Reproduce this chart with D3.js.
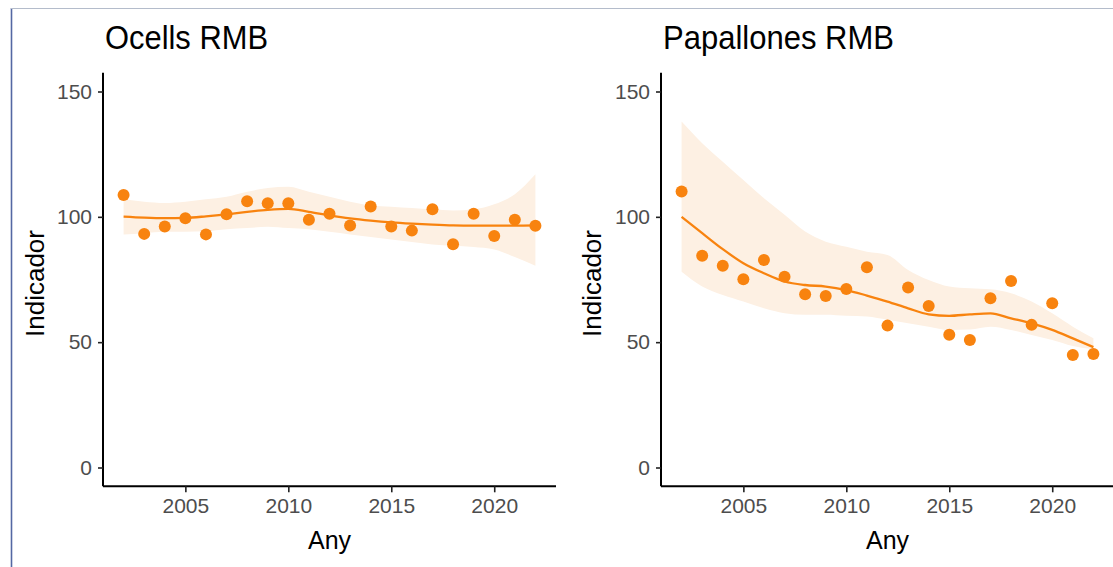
<!DOCTYPE html>
<html>
<head>
<meta charset="utf-8">
<script src="https://cdn.jsdelivr.net/npm/d3@7"></script>
<style>
  html, body { margin: 0; padding: 0; background: #fff; }
  svg { display: block; font-family: "Liberation Sans", Arial, sans-serif; }
</style>
</head>
<body>
<svg id="chart" width="1113" height="567"></svg>
<script>
// ---------- DATA ----------
const years = [2002,2003,2004,2005,2006,2007,2008,2009,2010,2011,2012,2013,2014,2015,2016,2017,2018,2019,2020,2021,2022];

const ocellsPoints = [108.7,93.2,96.1,99.4,93.0,101.0,106.2,105.4,105.4,98.8,101.2,96.5,104.1,96.1,94.5,103.0,89.1,101.2,92.4,98.8,96.4];
const ocellsSmooth = [100.1,99.7,99.5,99.6,100.2,101.0,102.0,102.8,103.2,102.0,100.6,99.4,98.5,97.8,97.3,96.9,96.6,96.5,96.5,96.5,96.6];
const ocellsLower  = [93.0,93.5,94.0,94.0,94.2,95.0,95.5,96.0,95.5,95.0,94.0,93.0,92.0,91.0,90.0,89.0,88.5,88.0,87.0,84.0,80.5];
const ocellsUpper  = [107.0,106.0,105.5,106.0,107.0,108.0,110.0,111.5,112.0,110.0,108.0,106.0,104.5,104.0,103.5,103.0,102.5,103.0,105.0,109.0,117.0];

const papPoints = [110.1,84.5,80.5,75.1,82.8,76.1,69.1,68.4,71.2,79.9,56.6,71.8,64.4,53.0,50.9,67.5,74.4,56.9,65.5,44.9,45.3];
const papSmooth = [100.0,93.5,87.1,81.5,77.5,74.2,72.8,72.2,70.8,68.6,66.2,63.5,61.1,60.5,61.1,61.5,59.5,57.5,54.9,51.5,48.0];
const papLower  = [78.1,72.2,68.8,66.2,63.5,61.5,60.9,60.9,60.5,60.2,58.9,57.5,56.2,54.9,55.1,56.2,54.9,52.9,50.9,48.5,47.2];
const papUpper  = [138.0,129.4,122.0,114.7,107.4,100.8,94.1,90.1,88.1,86.1,84.8,78.8,74.8,72.2,71.5,71.1,69.5,66.2,61.5,56.2,51.6];

const yTicks = [0,50,100,150];
const xTicks = [2005,2010,2015,2020];
const titles = ["Ocells RMB","Papallones RMB"];
const xTitle = "Any";
const yTitle = "Indicador";

// ---------- STYLE ----------
const orange = "#F8830F";
const bandFill = "#FDF0E3";
const tickGray = "#4D4D4D";

const svg = d3.select("#chart");

// frame lines of the screenshot
svg.append("line").attr("x1",11.5).attr("x2",11.5).attr("y1",8).attr("y2",567)
  .attr("stroke","#5468a3").attr("stroke-width",1.6);
svg.append("line").attr("x1",11).attr("x2",1113).attr("y1",8.5).attr("y2",8.5)
  .attr("stroke","#b4bccb").attr("stroke-width",1);

const panels = [
  { title: titles[0], left: 103, right: 556, pts: ocellsPoints, sm: ocellsSmooth, lo: ocellsLower, up: ocellsUpper, titleLen: 163, yTitleX: 36 },
  { title: titles[1], left: 661, right: 1114, pts: papPoints, sm: papSmooth, lo: papLower, up: papUpper, titleLen: 231, yTitleX: 593 }
];

const plotTop = 72.7, plotBottom = 486.3;

panels.forEach(p => {
  const x = d3.scaleLinear().domain([2001, 2023]).range([p.left, p.right]);
  const y = d3.scaleLinear().domain([-7.5, 157.5]).range([plotBottom, plotTop]);
  const g = svg.append("g");

  const rows = years.map((yr, i) => ({ yr, v: p.pts[i], s: p.sm[i], lo: p.lo[i], up: p.up[i] }));

  // band
  g.append("path").datum(rows)
    .attr("fill", bandFill)
    .attr("d", d3.area().x(d => x(d.yr)).y0(d => y(d.lo)).y1(d => y(d.up)).curve(d3.curveMonotoneX));

  // smooth line
  g.append("path").datum(rows)
    .attr("fill", "none").attr("stroke", orange).attr("stroke-width", 2.3)
    .attr("d", d3.line().x(d => x(d.yr)).y(d => y(d.s)).curve(d3.curveMonotoneX));

  // points
  g.selectAll("circle.pt").data(rows).enter().append("circle")
    .attr("class","pt")
    .attr("cx", d => x(d.yr)).attr("cy", d => y(d.v)).attr("r", 6)
    .attr("fill", orange);

  // y axis
  const yAxis = g.append("g").attr("transform", `translate(${p.left},0)`)
    .call(d3.axisLeft(y).tickValues(yTicks).tickSize(5).tickPadding(6));
  yAxis.select(".domain").attr("d", `M0,${plotTop}V${plotBottom}`).attr("stroke","#000").attr("stroke-width",2);
  yAxis.selectAll(".tick line").attr("stroke","#222").attr("stroke-width",1.6);
  yAxis.selectAll(".tick text").attr("font-size", 21).attr("fill", tickGray)
    .attr("font-family", '"Liberation Sans", Arial, sans-serif');

  // x axis
  const xAxis = g.append("g").attr("transform", `translate(0,${plotBottom})`)
    .call(d3.axisBottom(x).tickValues(xTicks).tickFormat(d3.format("d")).tickSize(6).tickPadding(6));
  xAxis.select(".domain").attr("d", `M${p.left},0H${p.right}`).attr("stroke","#000").attr("stroke-width",2);
  xAxis.selectAll(".tick line").attr("stroke","#222").attr("stroke-width",1.6);
  xAxis.selectAll(".tick text").attr("font-size", 21).attr("fill", tickGray)
    .attr("font-family", '"Liberation Sans", Arial, sans-serif');

  // title
  svg.append("text").attr("x", p.left + 2).attr("y", 49)
    .attr("font-size", 33).attr("fill", "#000")
    .attr("textLength", p.titleLen).attr("lengthAdjust", "spacingAndGlyphs")
    .text(p.title);

  // x title
  svg.append("text").attr("x", (p.left + p.right) / 2).attr("y", 549)
    .attr("text-anchor", "middle").attr("font-size", 25).attr("fill", "#000")
    .text(xTitle);

  // y title
  svg.append("text")
    .attr("transform", `translate(${p.yTitleX + 8},${(plotTop + plotBottom) / 2 + 4}) rotate(-90)`)
    .attr("text-anchor", "middle").attr("font-size", 26).attr("fill", "#000")
    .text(yTitle);
});
</script>
</body>
</html>
